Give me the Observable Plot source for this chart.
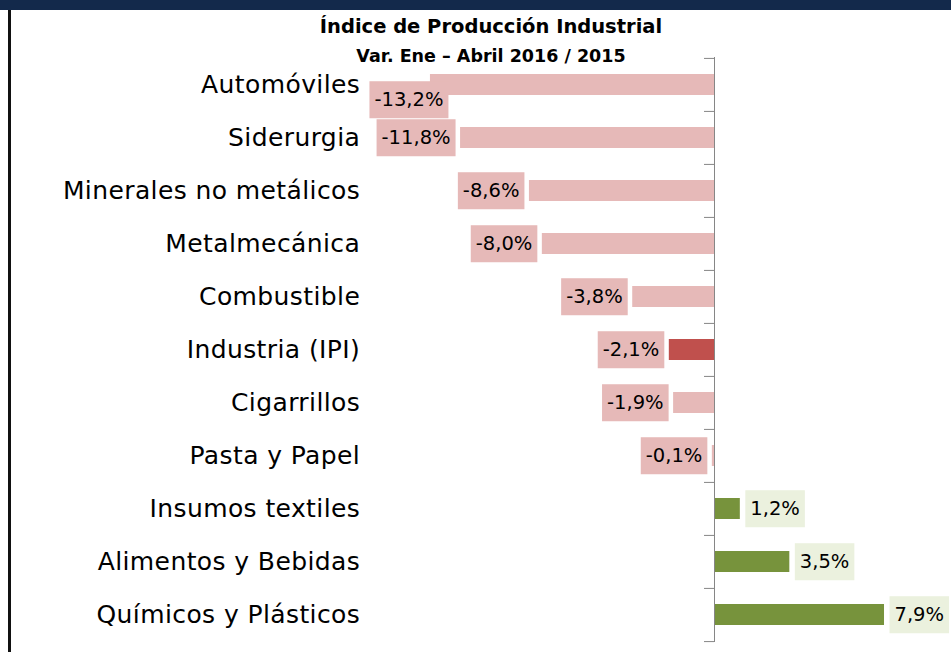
<!DOCTYPE html>
<html><head><meta charset="utf-8">
<script src="https://cdn.jsdelivr.net/npm/d3@7"></script>
<script src="https://cdn.jsdelivr.net/npm/@observablehq/plot@0.6"></script>
<style>
body{margin:0;background:#fff;font-family:"DejaVu Sans",sans-serif;color:#000;}
#wrap{position:relative;width:951px;height:652px;overflow:hidden;background:#fff;}
#band{position:absolute;left:0;top:0;width:951px;height:10px;background:#13294b;}
#border{position:absolute;left:8px;top:10px;width:3px;height:642px;background:#111;}
#chart{position:absolute;left:0;top:0;}
.t{position:absolute;left:241px;width:500px;text-align:center;font-weight:bold;white-space:nowrap;line-height:1;}
#title{top:17px;font-size:19.5px;}
#subtitle{top:48px;font-size:17.5px;}
</style></head>
<body>
<div id="wrap">
  <div id="band"></div>
  <div id="border"></div>
  <div id="chart"></div>
  <div class="t" id="title">Índice de Producción Industrial</div>
  <div class="t" id="subtitle">Var. Ene – Abril 2016 / 2015</div>
</div>
<script>
const categories = ["Automóviles","Siderurgia","Minerales no metálicos","Metalmecánica","Combustible","Industria (IPI)","Cigarrillos","Pasta y Papel","Insumos textiles","Alimentos y Bebidas","Químicos y Plásticos"];
const values = [-13.2,-11.8,-8.6,-8.0,-3.8,-2.1,-1.9,-0.1,1.2,3.5,7.9];
const highlight = "Industria (IPI)";

const data = categories.map((name, i) => ({name, value: values[i]}));
const fmt = d => d.value.toFixed(1).replace(".", ",") + "%";
const group = d => d.name === highlight ? "ipi" : d.value < 0 ? "neg" : "pos";

const W = 951, H = 652;
const k = 21.52;               // px per unit
const zeroX = 714;
const xDomain = [-14, 10];
const mLeft = zeroX + xDomain[0] * k;
const mRight = W - (zeroX + xDomain[1] * k);
const mTop = 57, mBottom = 10;
const step = (H - mBottom - mTop) / categories.length;

const chart = Plot.plot({
  width: W, height: H,
  marginLeft: mLeft, marginRight: mRight, marginTop: mTop, marginBottom: mBottom,
  style: {fontSize: "25px", fontFamily: "'DejaVu Sans', sans-serif", color: "#000", background: "transparent", overflow: "visible"},
  x: {domain: xDomain, axis: null},
  y: {domain: categories, paddingInner: 0.6, paddingOuter: 0.3, tickSize: 0, tickPadding: 53, label: null},
  color: {domain: ["neg", "ipi", "pos"], range: ["#e6b9b8", "#c0504d", "#77933c"]},
  marks: [
    Plot.barX(data, {x: "value", y: "name", fill: group}),
    Plot.ruleX([0], {stroke: "#868686", strokeWidth: 1}),
    Plot.ruleY(categories, {y: d => d, x1: -10 / k, x2: 0, dy: -step / 2, stroke: "#868686"}),
    Plot.ruleY(categories.slice(-1), {y: d => d, x1: -10 / k, x2: 0, dy: step / 2, stroke: "#868686"}),
    Plot.text(data.filter((d, i) => d.value < 0 && i > 0), {x: "value", y: "name", text: fmt, textAnchor: "end", dx: -10, fontSize: 19.5, fill: "#000"}),
    Plot.text(data.filter((d, i) => d.value < 0 && i === 0), {x: "value", y: "name", text: fmt, textAnchor: "end", dx: 13, dy: 15, fontSize: 19.5, fill: "#000"}),
    Plot.text(data.filter(d => d.value >= 0), {x: "value", y: "name", text: fmt, textAnchor: "start", dx: 10, fontSize: 19.5, fill: "#000"})
  ]
});
document.getElementById("chart").appendChild(chart);

// slightly wider tracking for the category labels
chart.querySelectorAll('g[aria-label="y-axis"] text, g[aria-label="y-axis tick label"] text').forEach(t => t.style.letterSpacing = "0.4px");

// label boxes behind value labels
const SVGNS = "http://www.w3.org/2000/svg";
chart.querySelectorAll('g[aria-label="text"] text').forEach(t => {
  const bb = t.getBBox();
  const cy = bb.y + bb.height / 2;
  const r = document.createElementNS(SVGNS, "rect");
  r.setAttribute("x", bb.x - 5);
  r.setAttribute("width", bb.width + 10);
  r.setAttribute("y", cy - 18.5);
  r.setAttribute("height", 37);
  r.setAttribute("fill", t.textContent.trim().startsWith("-") ? "#e6b9b8" : "#ebf1de");
  r.setAttribute("stroke", "none");
  if (t.getAttribute("transform")) r.setAttribute("transform", t.getAttribute("transform"));
  t.parentNode.insertBefore(r, t);
});
</script>
</body></html>
